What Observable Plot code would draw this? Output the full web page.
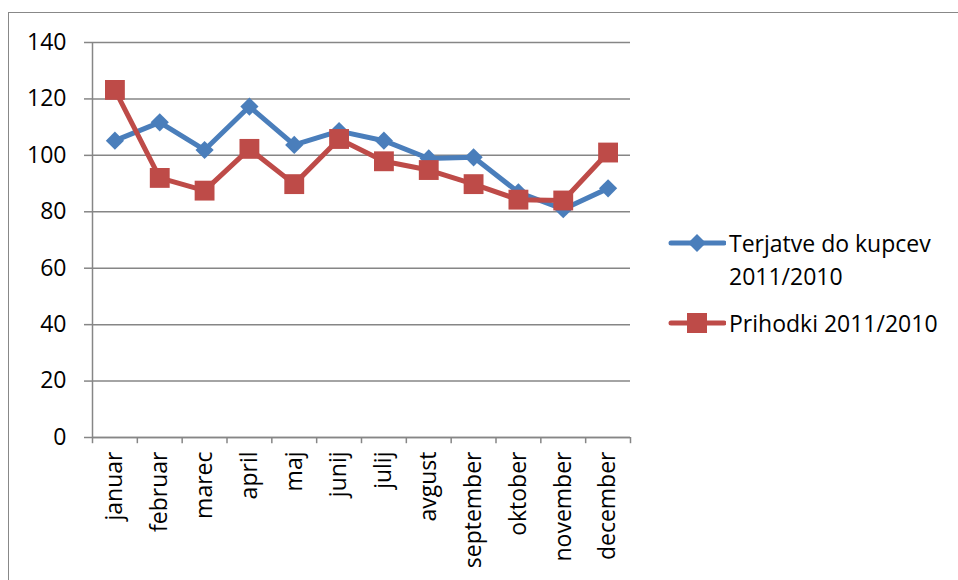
<!DOCTYPE html>
<html>
<head>
<meta charset="utf-8">
<script src="https://cdn.jsdelivr.net/npm/d3@7"></script>
<script src="https://cdn.jsdelivr.net/npm/@observablehq/plot@0.6"></script>
<style>
  html, body { margin: 0; padding: 0; background: #fff; overflow: hidden; }
  #wrap { position: relative; width: 958px; height: 580px; overflow: hidden; font-family: "Open Sans", sans-serif; }
  #border { position: absolute; left: 8px; top: 12px; width: 980px; height: 600px; border: 1.5px solid #888; box-sizing: border-box; }
  #chart { position: absolute; left: 0; top: 0; }
  #legend { position: absolute; left: 668px; top: 0; font-size: 23px; color: #000; }
  .item { position: absolute; display: flex; align-items: flex-start; white-space: nowrap; }
  .item svg { flex: none; }
  .item .txt { line-height: 33px; margin-left: 3px; }
</style>
</head>
<body>
<div id="wrap">
  <div id="border"></div>
  <div id="chart"></div>
  <div id="legend"></div>
</div>
<script>
const months = ["januar", "februar", "marec", "april", "maj", "junij", "julij", "avgust", "september", "oktober", "november", "december"];
const terjatve = [105.2, 111.7, 101.9, 117.3, 103.7, 108.6, 105.2, 98.9, 99.3, 86.9, 80.9, 88.3];
const prihodki = [123.2, 92.0, 87.5, 102.3, 89.8, 105.8, 97.9, 94.8, 89.8, 84.3, 84.0, 101.0];
const yTicks = [0, 20, 40, 60, 80, 100, 120, 140];
const seriesNames = ["Terjatve do kupcev 2011/2010", "Prihodki 2011/2010"];
const colors = ["#4A7EBB", "#BE4B48"];

const dataT = months.map((m, i) => ({month: m, value: terjatve[i]}));
const dataP = months.map((m, i) => ({month: m, value: prihodki[i]}));

const W = 958, H = 580, mL = 92, mR = 328, mT = 42, mB = 143;
const bw = (W - mL - mR) / months.length;
const gridColor = "#868686";

const chart = Plot.plot({
  width: W, height: H,
  marginLeft: mL, marginRight: mR, marginTop: mT, marginBottom: mB,
  style: {fontFamily: "Open Sans, sans-serif", fontSize: "23px", color: "#000", background: "transparent", overflow: "visible"},
  x: {type: "band", domain: months, padding: 0, round: false},
  y: {domain: [0, 140]},
  marks: [
    Plot.gridY(yTicks, {stroke: gridColor, strokeOpacity: 1, strokeWidth: 1.5}),
    Plot.axisY(yTicks, {tickSize: 8, tickPadding: 18, stroke: gridColor, strokeWidth: 1.5, fontSize: 23, label: null}),
    Plot.axisX(months, {tickSize: 0, tickPadding: 14, tickRotate: -90, fontSize: 23, label: null}),
    // y axis line
    Plot.ruleX([months[0]], {x: d => d, dx: -bw / 2, y1: 0, y2: 140, stroke: gridColor, strokeWidth: 1.5}),
    // x tick marks at band boundaries
    Plot.ruleX(months, {x: d => d, dx: -bw / 2, y1: 0, y2: -2.2, stroke: gridColor, strokeWidth: 1.5, clip: false}),
    Plot.ruleX([months[months.length - 1]], {x: d => d, dx: bw / 2, y1: 0, y2: -2.2, stroke: gridColor, strokeWidth: 1.5, clip: false}),
    Plot.ruleY([0], {stroke: gridColor, strokeWidth: 1.5}),
    Plot.line(dataT, {x: "month", y: "value", stroke: colors[0], strokeWidth: 5}),
    Plot.dot(dataT, {x: "month", y: "value", symbol: "diamond2", r: 8.2, fill: colors[0], stroke: "none"}),
    Plot.line(dataP, {x: "month", y: "value", stroke: colors[1], strokeWidth: 5}),
    Plot.dot(dataP, {x: "month", y: "value", symbol: "square", r: 11.2, fill: colors[1], stroke: "none"})
  ]
});
document.getElementById("chart").appendChild(chart);

// legend
const legend = document.getElementById("legend");
const legendItems = [
  {name: "Terjatve do kupcev<br>2011/2010", color: colors[0], sym: "diamond", top: 227},
  {name: seriesNames[1], color: colors[1], sym: "square", top: 307}
];
for (const it of legendItems) {
  const div = document.createElement("div");
  div.className = "item";
  div.style.top = it.top + "px";
  const shape = it.sym === "diamond"
    ? `<path d="M29,7 L38,16 L29,25 L20,16 Z" fill="${it.color}"/>`
    : `<rect x="19" y="6" width="20" height="20" fill="${it.color}"/>`;
  div.innerHTML = `<svg width="58" height="33"><line x1="3" x2="56" y1="16" y2="16" stroke="${it.color}" stroke-width="5" stroke-linecap="round"/>${shape}</svg><div class="txt">${it.name}</div>`;
  legend.appendChild(div);
}
</script>
</body>
</html>
